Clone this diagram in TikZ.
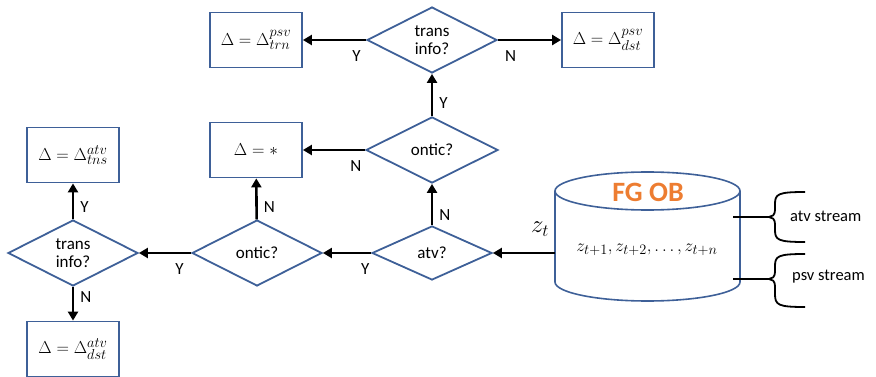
\documentclass[tikz,border=0pt]{standalone}
\usepackage{fontspec}
\setmainfont{Carlito}
\usetikzlibrary{shapes.geometric,arrows.meta}

\definecolor{frameblue}{RGB}{62,96,152}
\definecolor{fgorange}{RGB}{237,125,49}

\tikzset{
  box/.style={draw=frameblue, line width=1.8pt, minimum width=92pt, minimum height=55pt,
              inner sep=0pt, font=\fontsize{19}{21}\selectfont},
  query/.style={draw=frameblue, line width=1.8pt, diamond, inner sep=0pt,
                minimum width=130pt, minimum height=66pt, align=center,
                font=\fontsize{17}{18}\selectfont},
  flow/.style={line width=2.6pt, -{Triangle[length=9pt,width=10pt]}},
  ans/.style={font=\fontsize{17}{18}\selectfont, inner sep=0pt},
  dbline/.style={draw=frameblue, line width=1.6pt},
  stream/.style={line width=1.8pt, line join=round},
  streamtxt/.style={font=\fontsize{16.5}{18}\selectfont, anchor=west, inner sep=0pt}
}

\begin{document}
\begin{tikzpicture}[x=1pt,y=-1pt]
\useasboundingbox (0,0) rectangle (876,377);

% decision diamonds
\node[query] (tr1) at (432,40) {trans\\info?};
\node[query, minimum width=132pt] (on1) at (432,150) {ontic?};
\node[query, minimum width=120pt, minimum height=54pt] (atv) at (432,253) {atv?};
\node[query] (on2) at (257,253) {ontic?};
\node[query] (tr2) at (73,253) {trans\\info?};

% outcome boxes
\node[box] (bpt) at (256,40) {$\Delta=\Delta^{psv}_{trn}$};
\node[box] (bpd) at (608,40) {$\Delta=\Delta^{psv}_{dst}$};
\node[box] (bst) at (256,150) {$\Delta=*$};
\node[box] (bat) at (73,155) {$\Delta=\Delta^{atv}_{tns}$};
\node[box] (bad) at (73,349) {$\Delta=\Delta^{atv}_{dst}$};

% observation buffer (cylinder)
\draw[dbline] (555,191) -- (555,282) arc[start angle=180, end angle=0, x radius=92.5, y radius=19] -- (740,191);
\draw[dbline] (647.5,191) ellipse[x radius=92.5, y radius=19];
\node[font=\fontsize{28}{30}\selectfont\bfseries, text=fgorange] (fgob) at (648,192) {FG OB};
\node[font=\fontsize{19}{21}\selectfont] (zseq) at (647,250) {$z_{t+1}, z_{t+2}, \ldots, z_{t+n}$};
\coordinate (dbleft) at (555,253);
\node[font=\fontsize{25}{27}\selectfont] (zt) at (540,229) {$z_t$};

% streams with braces
\coordinate (atvsrc) at (733,217);
\coordinate (atvtip) at (769,217);
\coordinate (psvsrc) at (733,279);
\coordinate (psvtip) at (769,279);
\draw[stream] (atvsrc) -- (atvtip);
\draw[stream] (psvsrc) -- (psvtip);
\draw[stream] (805,192) .. controls (778,192) and (775,194) .. (775,204) -- (775,210)
  .. controls (775,215) and (772,217) .. (atvtip)
  .. controls (772,217) and (775,219) .. (775,224) -- (775,230)
  .. controls (775,240) and (778,242) .. (805,242);
\draw[stream] (805,254) .. controls (778,254) and (775,256) .. (775,266) -- (775,272)
  .. controls (775,277) and (772,279) .. (psvtip)
  .. controls (772,279) and (775,281) .. (775,286) -- (775,294)
  .. controls (775,305) and (778,307) .. (805,307);
\node[streamtxt] (atvtxt) at (790,216) {atv stream};
\node[streamtxt] (psvtxt) at (792,277) {psv stream};

% decision flow
\draw[flow] (dbleft) -- (atv.east);
\draw[flow] (atv) -- node[ans, pos=.25, right=6pt] (l1) {N} (on1);
\draw[flow] (on1) -- node[ans, pos=.3, right=6pt] (l2) {Y} (tr1);
\draw[flow] (tr1) -- node[ans, pos=.15, below=9pt] (l3) {Y} (bpt);
\draw[flow] (tr1) -- node[ans, pos=.2, below=9pt] (l4) {N} (bpd);
\draw[flow] (on1) -- node[ans, pos=.15, below=9pt] (l5) {N} (bst);
\draw[flow] (atv) -- node[ans, pos=.12, below=9pt] (l6) {Y} (on2);
\draw[flow] (on2) -- node[ans, pos=.3, right=6pt] (l7) {N} (bst);
\draw[flow] (on2) -- node[ans, pos=.22, below=9pt] (l8) {Y} (tr2);
\draw[flow] (tr2) -- node[ans, pos=.35, right=6pt] (l9) {Y} (bat);
\draw[flow] (tr2) -- node[ans, pos=.3, right=6pt] (l10) {N} (bad);
\end{tikzpicture}
\end{document}
